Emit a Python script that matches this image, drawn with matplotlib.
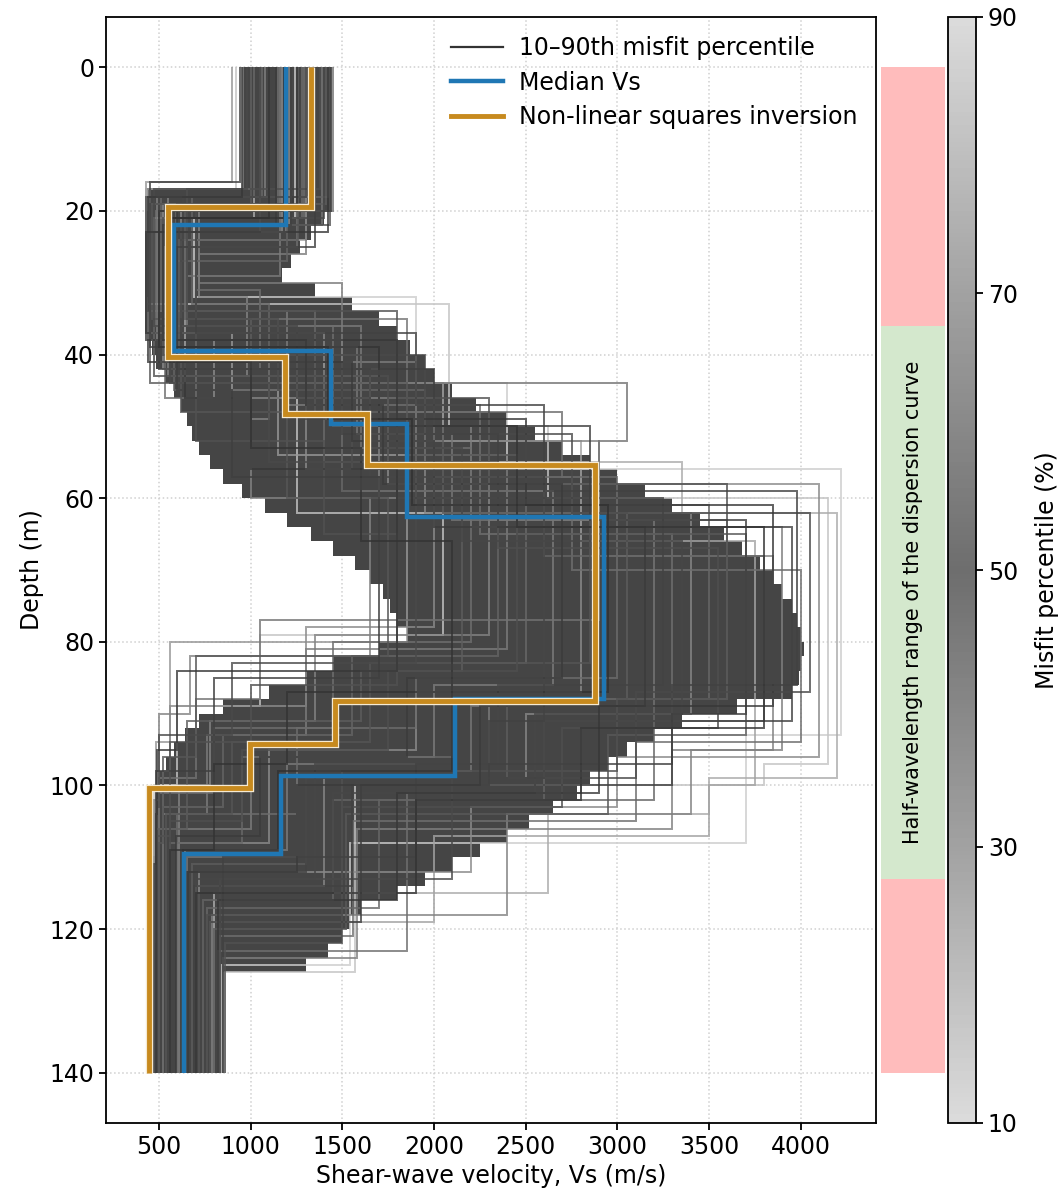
import numpy as np
import matplotlib
matplotlib.use("Agg")
import matplotlib.pyplot as plt
import matplotlib.patheffects as pe
from matplotlib.colors import LinearSegmentedColormap, Normalize
from matplotlib.cm import ScalarMappable
from matplotlib.lines import Line2D

plt.rcParams["font.family"] = ["DejaVu Sans"]
FS = 17

# ---- Median and inversion profiles (layer interfaces in m, Vs in m/s) ----
median_edges = [0, 22.0, 39.5, 49.7, 62.6, 88.0, 98.7, 109.5, 140]
median_vs = [1190, 580, 1440, 1850, 2925, 2115, 1165, 636]

nls_edges = [0, 19.5, 40.4, 48.3, 55.4, 88.3, 94.2, 100.3, 140]
nls_vs = [1330, 546, 1187, 1631, 2877, 1460, 996, 443]

# ---- Dense core of the accepted ensemble (10-90th misfit percentile) ----
core_depth = [0, 17, 20, 22, 24, 26, 28, 30, 32, 34, 36, 38, 40, 42, 44, 46,
              48, 50, 52, 54, 56, 58, 60, 62, 64, 66, 68, 70, 72, 74, 76, 78,
              80, 82, 84, 86, 88, 90, 92, 94, 96, 98, 100, 102, 104, 106, 108,
              110, 112, 114, 116, 118, 120, 122, 124, 126, 140]
core_vs_lo = [960, 440, 430, 430, 430, 430, 430, 435, 440, 445, 450, 460, 480,
              530, 580, 620, 650, 680, 720, 780, 850, 950, 1080, 1200, 1330,
              1450, 1570, 1650, 1720, 1760, 1800, 1850, 1700, 1450, 1300, 1100,
              850, 720, 640, 580, 540, 500, 485, 480, 480, 480, 480, 480, 480,
              480, 480, 480, 480, 478, 476, 475, 475]
core_vs_hi = [1440, 1440, 1400, 1330, 1270, 1220, 1170, 1350, 1550, 1700, 1800,
              1870, 1950, 2000, 2100, 2230, 2400, 2550, 2700, 2850, 3000, 3150,
              3300, 3450, 3580, 3680, 3780, 3850, 3900, 3950, 3980, 4000, 4020,
              4000, 3990, 3950, 3650, 3350, 3200, 3050, 2950, 2850, 2780, 2650,
              2520, 2400, 2250, 2100, 1950, 1800, 1600, 1540, 1500, 1420, 1300,
              850, 850]

# ---- Individual ensemble profiles: misfit percentile, interfaces, layer Vs ----
prof_pct = [50, 47, 53, 44, 56, 42, 58, 40, 61, 38, 64, 36, 67, 33, 70, 31, 72,
            29, 74, 27, 30, 70, 12, 68, 18, 72, 26, 74, 20, 77, 33, 66, 35, 65,
            45, 55, 10, 88, 28, 62,
            45, 52, 48, 57, 43, 60, 46, 54, 41, 59, 49, 51]
prof_z1 = [21, 19, 22, 18, 20, 17, 23, 20, 19, 24, 18, 27, 21, 25, 17, 22, 20,
           18, 23, 19, 29, 26, 17, 20, 21, 18, 19, 22, 24, 16, 20, 21, 19, 18,
           22, 20, 21, 17, 23, 19,
           20, 18, 23, 17, 21, 19, 25, 16, 22, 18, 20, 21]
prof_z2 = [39, 41, 38, 36, 42, 35, 43, 37, 44, 40, 33, 45, 31, 46, 34, 39, 32,
           38, 40, 37, 36, 30, 33, 35, 41, 40, 42, 38, 44, 37, 36, 39, 40, 34,
           41, 38, 32, 38, 43, 35,
           37, 41, 38, 36, 40, 35, 42, 39, 34, 37, 39, 41]
prof_z3 = [49, 52, 47, 46, 53, 45, 55, 48, 54, 50, 44, 56, 42, 57, 47, 51, 43,
           50, 46, 49, 48, 41, 50, 44, 55, 49, 50, 46, 52, 45, 47, 48, 53, 45,
           51, 49, 44, 46, 52, 43,
           47, 46, 49, 44, 51, 48, 50, 45, 46, 52, 50, 53]
prof_z4 = [61, 64, 58, 57, 66, 56, 67, 60, 65, 62, 55, 68, 53, 70, 59, 63, 60,
           64, 58, 62, 63, 54, 60, 52, 62, 60, 58, 56, 66, 54, 65, 57, 61, 59,
           64, 60, 56, 62, 68, 55,
           59, 56, 61, 55, 62, 60, 63, 57, 58, 65, 64, 66]
prof_z5 = [87, 89, 85, 86, 90, 84, 92, 83, 93, 88, 82, 91, 80, 94, 86, 89, 79,
           95, 87, 90, 88, 81, 97, 77, 99, 82, 96, 78, 100, 80, 92, 85, 88, 83,
           91, 86, 93, 79, 95, 84,
           86, 84, 89, 83, 87, 82, 90, 85, 88, 86, 92, 87]
prof_z6 = [98, 100, 96, 97, 101, 95, 103, 94, 104, 99, 93, 102, 92, 105, 96, 98,
           91, 106, 95, 99, 97, 93, 100, 88, 104, 90, 103, 89, 107, 94, 101, 92,
           102, 96, 100, 99, 108, 89, 104, 91,
           97, 95, 101, 93, 99, 96, 100, 98, 98, 94, 102, 97]
prof_z7 = [109, 112, 107, 113, 115, 105, 118, 104, 120, 111, 103, 116, 101, 121,
           106, 110, 100, 124, 108, 114, 109, 104, 126, 99, 115, 102, 112, 98,
           119, 110, 123, 104, 117, 108, 114, 112, 125, 100, 118, 106,
           110, 104, 116, 103, 113, 108, 119, 111, 122, 107, 115, 109]
prof_v1 = [1180, 1230, 1140, 1300, 1100, 1380, 1050, 1340, 1000, 1260, 1420,
           1200, 1290, 1250, 960, 1390, 1440, 1080, 1170, 1330, 1160, 1300, 920,
           1450, 1020, 1230, 1100, 1210, 1300, 900, 1150, 1280, 1350, 1060, 1220,
           1330, 1240, 1000, 1190, 1410,
           1440, 950, 1420, 980, 1400, 1000, 1350, 940, 1430, 1020, 1250, 1100]
prof_v2 = [560, 600, 520, 630, 500, 650, 470, 540, 450, 610, 680, 580, 700, 530,
           440, 600, 720, 490, 560, 620, 650, 720, 430, 700, 470, 550, 520, 600,
           640, 430, 480, 560, 590, 510, 620, 570, 690, 450, 550, 640,
           700, 440, 430, 470, 520, 460, 600, 450, 650, 430, 500, 560]
prof_v3 = [1420, 1550, 1300, 1250, 1650, 1150, 1750, 1350, 1850, 1450, 1100,
           1950, 1050, 2000, 1200, 1580, 980, 1500, 1250, 1400, 1600, 1500, 2080,
           1850, 1400, 1100, 1700, 800, 2050, 900, 1450, 1200, 1600, 1350, 1500,
           1300, 1900, 700, 1650, 1000,
           1900, 640, 1800, 560, 1950, 620, 2000, 600, 1800, 700, 1700, 1000]
prof_v4 = [1880, 2000, 1720, 1650, 2150, 1550, 2350, 1800, 2450, 2050, 1500,
           2600, 1400, 2750, 1600, 2100, 1700, 2200, 1750, 1950, 2300, 1900, 2620,
           3050, 3350, 1000, 2500, 1300, 2800, 1150, 2250, 2700, 1900, 1500, 2350,
           1800, 2400, 1250, 2900, 1400,
           2600, 1000, 2500, 1100, 2750, 1200, 2850, 900, 2300, 1400, 2450, 1600]
prof_v5 = [2950, 3150, 2700, 2600, 3350, 2450, 3550, 2850, 3700, 3050, 2350,
           3800, 2200, 4000, 2650, 3200, 2300, 3900, 2800, 3400, 3600, 2400, 4150,
           2900, 4200, 1650, 4100, 2000, 3750, 1850, 3300, 3000, 3500, 2500, 3950,
           3250, 4220, 2050, 3850, 2150,
           3980, 1800, 3850, 1900, 4050, 1750, 3700, 1700, 3600, 1800, 3800, 2100]
prof_v6 = [2100, 2250, 1850, 2350, 2550, 1750, 2700, 1650, 2950, 2400, 1550,
           2600, 1450, 3100, 2000, 2200, 1350, 3300, 1900, 2500, 2300, 1300, 3800,
           1050, 3500, 670, 3000, 1300, 3500, 560, 2800, 1900, 3200, 2100, 2300,
           2600, 3700, 1050, 3400, 1600,
           3300, 600, 2900, 900, 3100, 700, 3300, 800, 3000, 1000, 2800, 1200]
prof_v7 = [1150, 1250, 1050, 1350, 1450, 950, 1500, 900, 1520, 1300, 850, 1450,
           800, 1560, 1000, 1250, 780, 1580, 1100, 1400, 1200, 760, 1570, 700,
           2620, 500, 2200, 560, 2000, 480, 1850, 1250, 1700, 950, 1550, 1300,
           1540, 600, 2400, 650,
           1900, 490, 1800, 500, 2100, 520, 1600, 480, 1500, 560, 1900, 800]
prof_v8 = [630, 660, 590, 700, 720, 560, 760, 540, 800, 680, 520, 740, 500, 830,
           480, 650, 610, 850, 600, 700, 640, 520, 860, 500, 800, 470, 720, 520,
           780, 470, 820, 600, 760, 560, 690, 650, 840, 470, 790, 500,
           850, 480, 820, 490, 830, 500, 780, 470, 860, 480, 700, 560]

# ---- Half-wavelength coverage of the dispersion curve ----
band_edges = [0, 36, 113, 140]
band_colors = ["#ffbcbc", "#d4e8cd", "#ffbcbc"]
band_text = "Half-wavelength range of the dispersion curve"

x_ticks = [500, 1000, 1500, 2000, 2500, 3000, 3500, 4000]
y_ticks = [0, 20, 40, 60, 80, 100, 120, 140]
cbar_ticks = [10, 30, 50, 70, 90]

W, H = 1058, 1197
fig = plt.figure(figsize=(W / 100, H / 100), dpi=100)

ax = fig.add_axes([106 / W, 1 - 1123 / H, 770 / W, 1106 / H])
ax_band = fig.add_axes([881 / W, 1 - 1123 / H, 64 / W, 1106 / H], sharey=ax)
cax = fig.add_axes([948 / W, 1 - 1123 / H, 28 / W, 1106 / H])

LINE_ALPHA = 0.7
cmap = LinearSegmentedColormap.from_list(
    "misfit", ["#cdcdcd", "#7a7a7a", "#303030", "#7a7a7a", "#cdcdcd"])
norm = Normalize(10, 90)

# dense core of the ensemble
ax.fill_betweenx(core_depth, core_vs_lo, core_vs_hi, step="post",
                 color="#454545", lw=0, zorder=1.5)

# individual profiles, lightest (outer percentiles) first
z_cols = [prof_z1, prof_z2, prof_z3, prof_z4, prof_z5, prof_z6, prof_z7]
v_cols = [prof_v1, prof_v2, prof_v3, prof_v4, prof_v5, prof_v6, prof_v7, prof_v8]
order = np.argsort([-abs(p - 50) for p in prof_pct])
for rank, i in enumerate(order):
    edges = [0] + [z[i] for z in z_cols] + [140]
    vals = [v[i] for v in v_cols]
    ax.stairs(vals, edges, orientation="horizontal", baseline=None,
              color=cmap(norm(prof_pct[i])), lw=1.4, alpha=0.8,
              zorder=2 + rank * 0.001)

ax.stairs(median_vs, median_edges, orientation="horizontal", baseline=None,
          color="#1f77b4", lw=3.2, zorder=4)
ax.stairs(nls_vs, nls_edges, orientation="horizontal", baseline=None,
          color="#c78a1e", lw=3.5, zorder=5,
          path_effects=[pe.Stroke(linewidth=5.3, foreground="#f6ead2"),
                        pe.Normal()])

ax.set_xlim(210, 4410)
ax.set_ylim(147, -7)
ax.set_xticks(x_ticks)
ax.set_yticks(y_ticks)
ax.tick_params(labelsize=FS, width=1.3, length=5)
ax.grid(True, linestyle=":", color="#d0d0d0", linewidth=1.1)
ax.set_axisbelow(True)
for s in ax.spines.values():
    s.set_linewidth(1.3)
ax.set_xlabel("Shear-wave velocity, Vs (m/s)", fontsize=FS, labelpad=4)
ax.set_ylabel("Depth (m)", fontsize=FS)

handles = [
    Line2D([], [], color="#333333", lw=1.6),
    Line2D([], [], color="#1f77b4", lw=3.2),
    Line2D([], [], color="#c78a1e", lw=3.5),
]
labels = ["10\u201390th misfit percentile", "Median Vs",
          "Non-linear squares inversion"]
ax.legend(handles, labels, loc="upper right", frameon=False, fontsize=FS,
          handlelength=2.2, handletextpad=0.65, borderaxespad=0.4,
          labelspacing=0.45)

# coverage band
for k, col in enumerate(band_colors):
    ax_band.axhspan(band_edges[k], band_edges[k + 1], color=col, lw=0)
ax_band.set_xlim(0, 1)
ax_band.text(0.5, (band_edges[1] + band_edges[2]) / 2, band_text,
             rotation=90, ha="center", va="center", fontsize=15)
ax_band.axis("off")

# misfit colorbar
sm = ScalarMappable(norm=norm, cmap=cmap)
cb = fig.colorbar(sm, cax=cax, ticks=cbar_ticks, alpha=LINE_ALPHA)
cb.outline.set_linewidth(1.3)
cb.ax.tick_params(labelsize=FS, width=1.3, length=5)
cb.set_label("Misfit percentile (%)", fontsize=FS, labelpad=12)

fig.savefig("out.png", dpi=100)
